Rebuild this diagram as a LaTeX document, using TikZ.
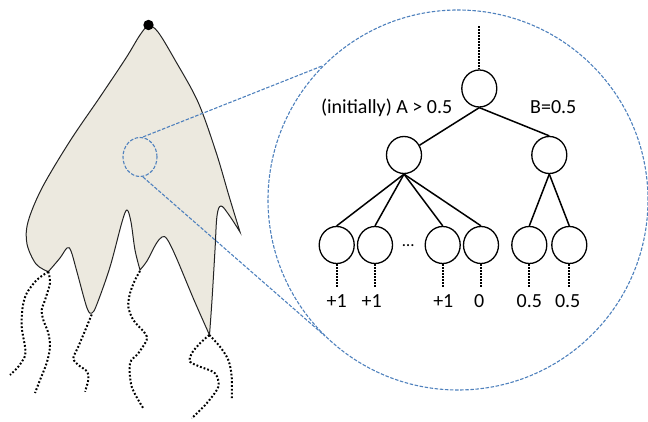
\documentclass[tikz,border=0pt]{standalone}
\usepackage{fontspec}
\setmainfont{Carlito}
\usetikzlibrary{shapes.geometric}
\definecolor{bodyfill}{RGB}{236,233,223}
\definecolor{zoomblue}{RGB}{79,129,189}
\definecolor{outline}{RGB}{35,35,35}
\tikzset{
  tentacle/.style={line width=2pt, dash pattern=on 1.8pt off 2pt, black},
  zoomline/.style={zoomblue, line width=1.1pt, dash pattern=on 3.5pt off 1.6pt},
  treenode/.style={ellipse, draw, line width=1.3pt, minimum width=35pt, minimum height=37pt, inner sep=0pt},
  treeedge/.style={line width=1.5pt},
  treedots/.style={line width=2pt, dash pattern=on 1.5pt off 1.5pt},
  lbl/.style={font=\fontsize{20}{22}\selectfont, anchor=base, inner sep=0pt}
}
\begin{document}
\begin{tikzpicture}[x=1pt,y=1pt]
\useasboundingbox (0,0) rectangle (648,422);

% the body with its lobes
\draw[fill=bodyfill, draw=outline, line width=1pt]
  plot[smooth, tension=0.55] coordinates {(48.3,150.3) (36,158) (27,178) (28,200) (42,234) (70,281) (100,325) (126,364) (140,387) (148.5,396) (158,390) (175,362) (198,320) (216,270) (229,226) (240,190)}
  -- plot[smooth, tension=0.6] coordinates {(240,190) (229,207) (221,216) (217,206) (215,172) (212,122) (209.5,87)}
  -- plot[smooth, tension=0.55] coordinates {(209.5,87) (194,122) (176,165) (167,183) (162,185) (156,178) (147,161) (140,152)}
  -- plot[smooth, tension=0.55] coordinates {(140,152) (135,172) (131,200) (127,212) (122,200) (110,155) (97,118) (92,109) (87,114) (77,150) (71,171) (67,174) (60,164) (48.3,150.3)}
  -- cycle;

% anchor dot at the top
\fill (148.5,397) circle (5.2pt);

% dotted tentacles
\coordinate (t1) at (48.3,150.3);
\coordinate (t3) at (91.7,107.5);
\coordinate (t4) at (140,151);
\coordinate (t5) at (209.3,87);
\draw[tentacle] plot[smooth] coordinates {(t1) (36.7,142) (26.7,128.7) (22.7,115.3) (21.7,95.3) (25,75.3) (25,66) (18.3,55.3) (10,47)};
\draw[tentacle] plot[smooth] coordinates {(t1) (50,139) (45,122) (41.7,112) (43.3,102) (48.3,89) (50,75) (46.7,59) (40,42) (35,29)};
\draw[tentacle] plot[smooth] coordinates {(t3) (86.7,95.3) (78.3,75.3) (73.3,63.7) (78.3,57) (87.3,50.3) (88.3,42) (85,30.3)};
\draw[tentacle] plot[smooth] coordinates {(t4) (135,142) (130,128.7) (128.3,115.3) (133.3,102) (145,88.7) (146.7,82) (138.3,68.7) (130,58.7) (131.7,35.3) (143.3,13.7)};
\draw[tentacle] plot[smooth] coordinates {(t5) (200,78.7) (191.7,68.7) (190,60.3) (200,55.3) (215,48.7) (218.3,35.3) (206.7,18.7) (191.7,3.7)};
\draw[tentacle] plot[smooth] coordinates {(t5) (220,75.3) (228.3,62) (231.7,45.3) (231.7,22)};

% magnifier: small circle, big circle and the two rays
\node[ellipse, draw=zoomblue, zoomline, minimum width=34pt, minimum height=39pt, inner sep=0pt] (spot) at (140,265) {};
\node[circle, draw=zoomblue, zoomline, minimum size=380pt, inner sep=0pt] (lens) at (458,222) {};
\coordinate (rayA) at (322,356);
\coordinate (rayB) at (325,86);
\draw[zoomline] (spot.north) ++(3,0) -- (rayA);
\draw[zoomline] (spot.south) ++(3,0) -- (rayB);

% game tree
\node[treenode] (root) at (479.3,333.5) {};
\node[treenode] (l1) at (404,267) {};
\node[treenode] (r1) at (549.3,267) {};
\node[treenode] (a) at (336.7,177) {};
\node[treenode] (b) at (375,177) {};
\node[treenode] (c) at (442.7,177) {};
\node[treenode] (d) at (481,177) {};
\node[treenode] (e) at (529.3,177) {};
\node[treenode] (f) at (569.3,177) {};

\coordinate (top) at (479.3,395.5);
\draw[treedots] (top) -- (root.north);

\draw[treeedge] (root.south) -- (l1);
\draw[treeedge] (root.south) -- (r1.north);
\foreach \n in {a,b,c,d}{\draw[treeedge] (l1.south) -- (\n.north);}
\foreach \n in {e,f}{\draw[treeedge] (r1.south) -- (\n.north);}

\node[lbl, font=\fontsize{17}{19}\selectfont] (gap) at (408.3,175.5) {…};

% payoffs under the leaves
\foreach \n in {a,b,c,d,e,f}{
  \coordinate (\n end) at ([yshift=-23pt]\n.south);
  \draw[treedots] (\n.south) -- (\n end);
}
\node[lbl] (va) at (336.7,114.6) {+1};
\node[lbl] (vb) at (371.7,114.6) {+1};
\node[lbl] (vc) at (443.3,114.6) {+1};
\node[lbl] (vd) at (479.3,114.6) {0};
\node[lbl] (ve) at (529.3,114.6) {0.5};
\node[lbl] (vf) at (567.7,114.6) {0.5};

\node[lbl] (labA) at (386.7,308.7) {(initially) A > 0.5};
\node[lbl] (labB) at (553.3,308.7) {B=0.5};
\end{tikzpicture}
\end{document}
